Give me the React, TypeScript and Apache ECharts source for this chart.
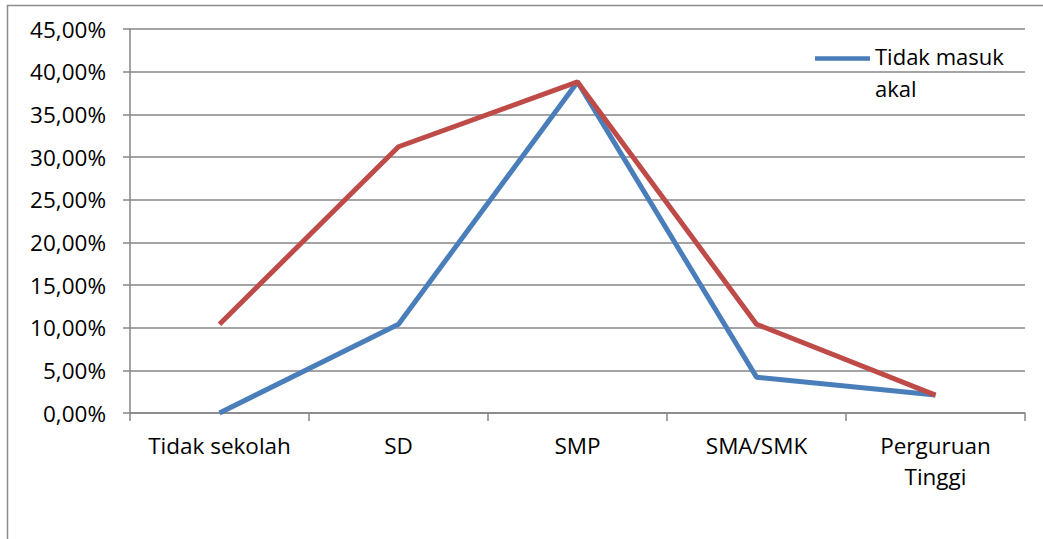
import React, { useEffect, useRef } from "react";
import * as echarts from "echarts";

const categories = ["Tidak sekolah", "SD", "SMP", "SMA/SMK", "Perguruan\nTinggi"];
const blueName = "Tidak masuk\nakal";
const blueValues = [0, 10.4, 38.8, 4.2, 2.1];
const redName = "Masuk akal";
const redValues = [10.4, 31.2, 38.8, 10.4, 2.1];
const yTicks = { min: 0, max: 45, interval: 5 };

const FONT = "'Open Sans', 'Noto Sans', sans-serif";
const FS = 22.5;

export default function App() {
  const ref = useRef<HTMLDivElement>(null);
  useEffect(() => {
    if (!ref.current) return;
    const chart = echarts.init(ref.current, undefined, { renderer: "svg" });
    chart.setOption({
      animation: false,
      backgroundColor: "#fff",
      textStyle: { fontFamily: FONT },
      graphic: [
        {
          type: "rect",
          shape: { x: 7.5, y: 5.5, width: 1100, height: 600 },
          style: { fill: "none", stroke: "#8c8c8c", lineWidth: 1.5 },
          silent: true,
        },
      ],
      grid: { left: 130, right: 18, top: 29, bottom: 126, containLabel: false },
      legend: {
        data: [blueName],
        left: 810,
        top: 35,
        orient: "vertical",
        itemWidth: 55,
        itemHeight: 36,
        icon: "path://M0,0h56v4.5h-56z M0,32h0.01v0.01h-0.01z",
        textStyle: { fontSize: 22, color: "#000", fontFamily: FONT, lineHeight: 32 },
      },
      xAxis: {
        type: "category",
        data: categories,
        boundaryGap: true,
        axisLine: { lineStyle: { color: "#868686", width: 1.5 } },
        axisTick: { show: true, length: 8, lineStyle: { color: "#868686", width: 1.5 } },
        axisLabel: {
          fontSize: FS,
          color: "#000",
          margin: 17,
          lineHeight: 31,
          fontFamily: FONT,
          interval: 0,
        },
      },
      yAxis: {
        type: "value",
        min: yTicks.min,
        max: yTicks.max,
        interval: yTicks.interval,
        axisLine: { show: true, lineStyle: { color: "#868686", width: 1.5 } },
        axisTick: { show: true, length: 7, lineStyle: { color: "#868686", width: 1.5 } },
        splitLine: { lineStyle: { color: "#868686", width: 1.5 } },
        axisLabel: {
          fontSize: FS,
          color: "#000",
          margin: 24,
          fontFamily: FONT,
          formatter: (v: number) => v.toFixed(2).replace(".", ",") + "%",
        },
      },
      series: [
        {
          name: blueName,
          type: "line",
          data: blueValues,
          symbol: "none",
          lineStyle: { color: "#4a7ebb", width: 5 },
          itemStyle: { color: "#4a7ebb" },
        },
        {
          name: redName,
          type: "line",
          data: redValues,
          symbol: "none",
          lineStyle: { color: "#be4b48", width: 5 },
          itemStyle: { color: "#be4b48" },
        },
      ],
    });
    return () => chart.dispose();
  }, []);
  return <div ref={ref} style={{ width: 1043, height: 539, position: "fixed", left: 0, top: 0 }} />;
}
